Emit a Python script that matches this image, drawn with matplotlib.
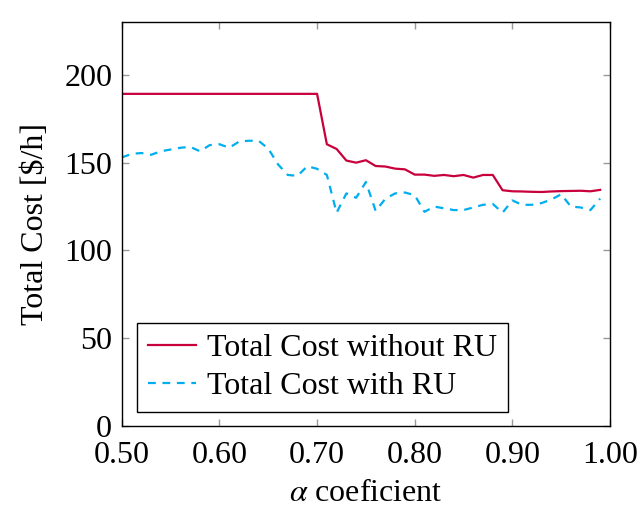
import matplotlib
matplotlib.use('Agg')
import matplotlib.pyplot as plt
import numpy as np

alpha = np.round(np.arange(0.50, 0.995, 0.01), 2)

cost_without_ru = [189.2] * 21 + [
	160.5, 157.8, 151.2, 150.0, 151.4, 148.1, 147.8, 146.6, 146.2, 143.2,
	143.2, 142.5, 143.0, 142.3, 143.0, 141.5, 143.0, 143.0, 134.3, 133.7,
	133.6, 133.4, 133.3, 133.6, 133.8, 133.9, 134.0, 133.7, 134.5]

cost_with_ru = [
	153.0, 155.0, 155.5, 154.5, 156.5, 157.5, 158.5, 159.0, 156.5, 160.0,
	160.5, 158.5, 162.0, 162.5, 162.5, 158.0, 149.0, 143.0, 142.5, 148.0,
	146.5, 143.0, 121.5, 132.5, 130.0, 139.0, 122.5, 129.5, 132.5, 133.0,
	131.5, 122.0, 125.0, 124.0, 123.0, 123.0, 124.5, 126.0, 126.5, 121.5,
	128.5, 126.0, 126.0, 127.0, 129.0, 132.0, 125.0, 124.5, 123.0, 129.5]

fs = 23
plt.rcParams['font.family'] = 'Liberation Serif'
plt.rcParams['mathtext.fontset'] = 'stix'
plt.rcParams['font.size'] = fs

fig = plt.figure(figsize=(6.38, 5.17), dpi=100)
ax = fig.add_axes([0.191, 0.176, 0.765, 0.781])

ax.plot(alpha, cost_without_ru, color='#c8003c', lw=1.6, label='Total Cost without RU')
ax.plot(alpha, cost_with_ru, color='#00aeef', lw=1.6, ls=(0, (3.5, 3)), label='Total Cost with RU')

ax.set_xlim(0.5, 1.0)
ax.set_ylim(0, 230)
ax.set_xticks([0.5, 0.6, 0.7, 0.8, 0.9, 1.0])
ax.set_xticklabels(['0.50', '0.60', '0.70', '0.80', '0.90', '1.00'])
ax.set_yticks([0, 50, 100, 150, 200])
ax.tick_params(direction='in', top=True, right=True, length=5, width=1, color='#999999', labelsize=fs)
ax.tick_params(axis='x', pad=11)
ax.tick_params(axis='y', pad=7)
for s in ax.spines.values():
	s.set_linewidth(1.0)

ax.set_xlabel(r'$\alpha$ coeficient', fontsize=fs, labelpad=6)
ax.set_ylabel(r'Total Cost [\$/h]', fontsize=fs, labelpad=10)

leg = ax.legend(loc='lower left', bbox_to_anchor=(0.03, 0.035), fancybox=False, edgecolor='black',
	framealpha=1, fontsize=fs, handlelength=1.5, handletextpad=0.35, borderpad=0.35, labelspacing=0.25, borderaxespad=0)
leg.get_frame().set_linewidth(1.0)

fig.savefig('out.png', dpi=100)
